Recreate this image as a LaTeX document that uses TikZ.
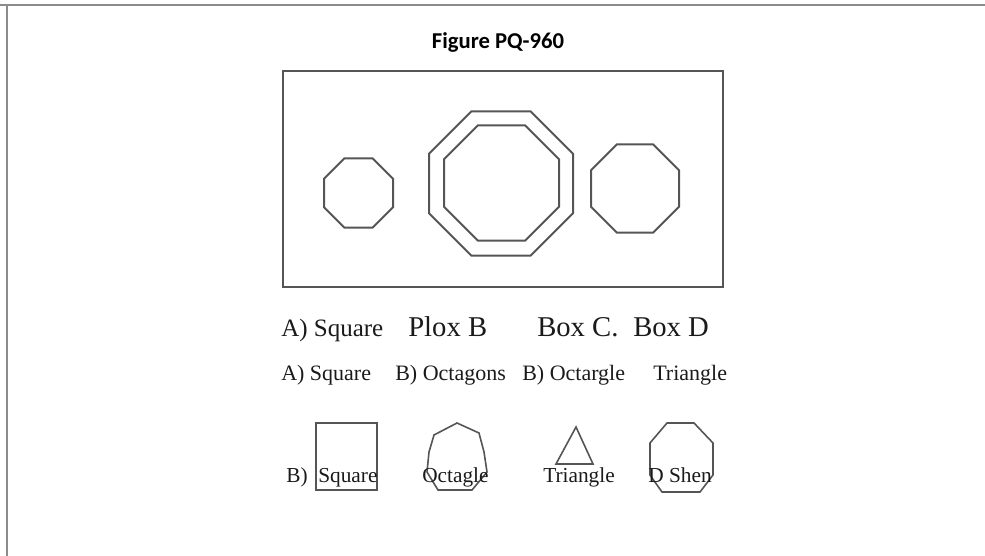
\documentclass[tikz,border=0pt]{standalone}
\usepackage{fontspec}
\setmainfont{Liberation Serif}
\newfontfamily\titlefont{Carlito}
\usepackage{xcolor}
\usetikzlibrary{positioning}

\definecolor{linegray}{HTML}{555555}
\definecolor{framegray}{HTML}{8C8C8C}
\definecolor{textdark}{HTML}{1A1A1A}

% regular octagon with flat top: centre x, centre y, half width
\newcommand{\drawocto}[3]{%
  \draw[shapeline, shift={(#1,#2)}]
    (-0.4142*#3,-#3) -- (0.4142*#3,-#3) -- (#3,-0.4142*#3) -- (#3,0.4142*#3)
    -- (0.4142*#3,#3) -- (-0.4142*#3,#3) -- (-#3,0.4142*#3) -- (-#3,-0.4142*#3) -- cycle;}

\begin{document}
\begin{tikzpicture}[x=0.75pt, y=-0.75pt,
    shapeline/.style={draw=linegray, line width=1.5pt, line join=miter},
    lbl/.style={text=textdark, inner sep=0pt, anchor=base west},
    bigfont/.style={font=\fontsize{21.5}{24}\selectfont},
    midfont/.style={font=\fontsize{16.5}{19}\selectfont},
    smallfont/.style={font=\fontsize{16}{18}\selectfont}]

    \useasboundingbox (0,0) rectangle (985,556);

    % 1. Page frame
    \draw[framegray, line width=1.5pt] (0,5) -- (985,5);
    \draw[framegray, line width=1.5pt] (7,5) -- (7,556);

    % 2. Title
    \node[text=black, inner sep=0pt, anchor=base, font=\titlefont\bfseries\fontsize{17}{20}\selectfont] (title) at (498,49) {Figure PQ-960};

    % 3. Box with the octagons
    \draw[shapeline] (283,71) rectangle (723,287);
    \drawocto{358.5}{193}{34.5}
    \drawocto{501}{183.5}{72}
    \drawocto{501.5}{183}{57.5}
    \drawocto{635}{188.5}{44}

    % 4. First row of labels
    \node[lbl, font=\fontsize{18.75}{22}\selectfont] (sqA) at (281,336) {A) Square};
    \node[lbl, bigfont] (ploxB) at (408,336) {Plox B};
    \node[lbl, bigfont] (boxC) at (537,336) {Box C.};
    \node[lbl, bigfont] (boxD) at (633,336) {Box D};

    % 5. Second row of labels
    \node[lbl, midfont] (optA) at (281,380) {A) Square};
    \node[lbl, midfont] (optB) at (395,380) {B) Octagons};
    \node[lbl, midfont] (optC) at (522,380) {B) Octargle};
    \node[lbl, midfont] (optD) at (653,380) {Triangle};

    % 6. Small shapes with their names
    \draw[shapeline, line width=1.2pt] (316,423) rectangle (377,490);
    \draw[shapeline, line width=1.2pt] (457,423) -- (479,433) -- (484,452) -- (487,472) -- (472,490)
        -- (438,490) -- (427,472) -- (429,452) -- (434,435) -- cycle;
    \draw[shapeline, line width=1.2pt] (576,427) -- (593,464) -- (556,464) -- cycle;
    \draw[shapeline, line width=1.2pt] (667,423) -- (694,423) -- (713,443) -- (713,475) -- (700,492)
        -- (662,492) -- (650,475) -- (650,443) -- cycle;

    \node[lbl, smallfont] (markB) at (286,482) {B)};
    \node[lbl, smallfont] (sqName) at (318,482) {Square};
    \node[lbl, smallfont] (octName) at (422,482) {Octagle};
    \node[lbl, smallfont] (triName) at (543,482) {Triangle};
    \node[lbl, smallfont] (shenName) at (648,482) {D Shen};

\end{tikzpicture}
\end{document}
